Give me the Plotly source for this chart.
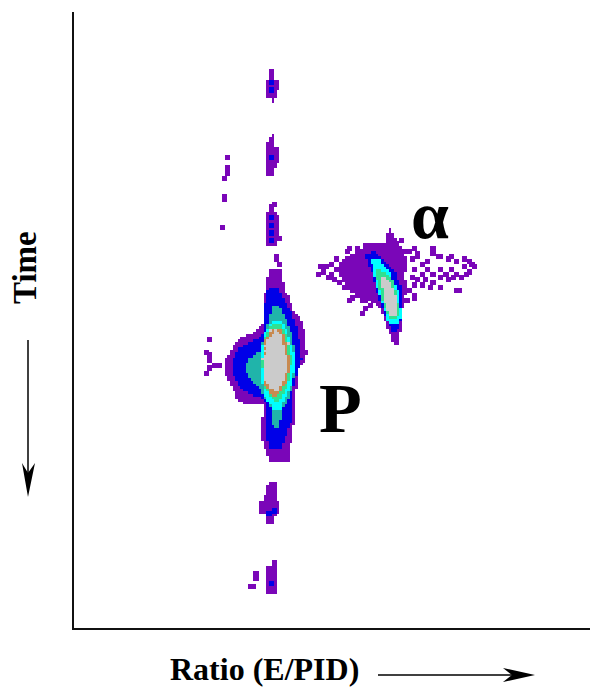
import numpy as np
import plotly.graph_objects as go

# Axis extents (detector channels)
x_range = [74, 590]
y_range = [628, 12]
bin_size = 2.6

# Intensity levels and their colours
level_colors = ["#7a06b8", "#0000e8", "#20b4aa", "#00ffff", "#30e090", "#c88a50", "#cbcbcb"]

# Proton locus, one outline per intensity level
p_purple = [(270,269),(280,268),(282,275),(285,293),(290,297),(292,307),(297,315),(303,322),(305,337),(307,353),(305,363),(298,367),(297,383),(295,400),(295,417),(293,430),(290,450),(290,462),(270,462),(266,452),(262,440),(261,425),(264,410),(264,405),(250,405),(238,402),(233,390),(225,375),(225,363),(232,348),(240,338),(253,333),(264,323),(265,293),(267,280)]
p_blue = [(268,288),(279,288),(285,303),(292,313),(297,330),(300,347),(302,360),(297,373),(293,390),(292,407),(292,420),(285,437),(282,450),(270,450),(266,433),(265,400),(252,395),(240,388),(233,373),(233,360),(240,347),(253,342),(264,333),(265,303)]
p_teal = [(273,305),(280,307),(285,317),(292,335),(296,360),(293,383),(290,397),(282,410),(280,427),(273,427),(272,410),(264,397),(260,388),(250,380),(245,370),(248,360),(260,352),(265,332)]
p_cyan = [(273,320),(282,322),(288,335),(296,360),(292,383),(288,393),(280,410),(273,410),(265,397),(260,373),(260,357),(265,332)]
p_green = [(273,323),(280,323),(287,337),(292,360),(288,385),(278,403),(275,403),(265,388),(262,363),(265,337)]
p_orange = [(273,328),(281,328),(288,350),(290,367),(287,382),(277,397),(273,397),(265,385),(263,363),(265,340)]
p_gray = [(274,333),(280,333),(285,350),(288,367),(283,383),(277,392),(270,388),(265,380),(264,363),(267,340)]

# Alpha locus
a_purple = [(390,228),(393,235),(402,247),(407,260),(405,277),(407,290),(403,307),(402,323),(398,345),(393,345),(388,330),(382,313),(375,303),(360,297),(347,290),(340,277),(338,262),(353,253),(365,248),(372,242),(385,243),(387,233)]
a_blue = [(372,252),(377,253),(385,263),(395,273),(402,290),(402,313),(399,330),(392,332),(385,318),(378,297),(372,273),(365,255)]
a_cyan = [(371,258),(378,258),(390,273),(399,293),(401,318),(397,325),(388,323),(380,297),(373,273)]
a_green = [(375,267),(380,270),(392,278),(397,297),(399,317),(390,320),(383,303),(377,280)]
a_gray = [(380,275),(390,282),(397,300),(397,315),(389,315),(384,300)]

# Weak bands along the proton line
band_1 = [(269,70),(278,68),(273,72),(273,78),(279,79),(279,87),(277,93),(273,103),(271,98),(267,97),(267,82),(269,78)]
band_2 = [(269,138),(273,135),(273,147),(279,148),(279,162),(275,168),(273,175),(267,175),(267,143)]
band_3 = [(269,205),(273,206),(274,210),(279,217),(279,237),(275,247),(267,247),(267,217)]
band_4 = [(268,482),(273,482),(278,485),(278,502),(281,503),(278,515),(273,520),(273,524),(267,524),(266,515),(256,515),(258,512),(260,505),(255,503),(263,501),(267,490)]
band_5 = [(267,567),(277,563),(278,593),(267,594),(267,577)]

# Isolated counts
blue_counts = [(271,88),(269,81),(270,155),(271,217),(271,225),(271,232),(270,239),(268,513),(272,510),(270,583)]
gray_counts = [(265,345),(264,352),(263,360),(264,370),(266,378),(288,343),(270,331),(276,330)]
purple_counts = [(227,157),(227,167),(227,172),(224,178),(224,197),(224,194),(221,226),(275,254),(275,258),(272,202),(279,237),(272,561),(254,573),(254,578),(251,584),(249,586),
    (278,264),(209,337),(207,355),(208,360),(207,368),(205,372),(206,352),(217,365),(214,364),(225,358),
    (408,250),(412,247),(415,252),(410,258),(415,256),(420,262),(425,260),(432,248),(432,253),(436,256),(440,254),(446,258),(450,256),(456,260),(462,258),(467,260),(470,264),(473,266),(468,270),(462,266),(456,272),(450,268),(444,272),(438,268),(432,272),(426,268),(420,272),(414,268),(410,275),(416,278),(424,278),(432,280),(438,276),(446,278),(452,276),(460,276),(466,274),(440,285),(455,288),(457,289),(430,285),(420,283),(412,283),(408,290),(413,295),(406,300),(414,296),
    (325,265),(320,266),(330,263),(322,270),(318,272),(330,272),(335,268),(328,276),(333,278),(338,280),(342,285),(335,258),(345,250),(348,248),(356,248),(365,245),(350,297),(348,298),(360,300),(365,298),(360,313),(355,295),(372,300),(365,308),(368,305),(400,240),(406,250)]

# Text
label_alpha = "α"
label_proton = "P"
label_time = "Time"
label_ratio = "Ratio (E/PID)"

SERIF = "Liberation Serif"

x_bins = np.arange(x_range[0] + bin_size / 2, x_range[1], bin_size)
y_bins = np.arange(y_range[1] + bin_size / 2, y_range[0], bin_size)
grid_x, grid_y = np.meshgrid(x_bins, y_bins)
counts = np.full(grid_x.shape, np.nan)

def fill_outline(outline, level):
    px = np.array([p[0] for p in outline], float)
    py = np.array([p[1] for p in outline], float)
    inside = np.zeros(grid_x.shape, bool)
    for i in range(len(px)):
        j = i - 1
        crosses = (py[i] > grid_y) != (py[j] > grid_y)
        with np.errstate(divide="ignore", invalid="ignore"):
            at_x = (px[j] - px[i]) * (grid_y - py[i]) / (py[j] - py[i]) + px[i]
        inside ^= crosses & (grid_x < at_x)
    counts[inside] = level

def fill_points(points, level, span=1):
    for x, y in points:
        r, c = np.abs(y_bins - y).argmin(), np.abs(x_bins - x).argmin()
        counts[r:r + span, c:c + span] = level

for outline in [band_1, band_2, band_3, band_4, band_5, p_purple, a_purple]:
    fill_outline(outline, 1)
fill_points(purple_counts, 1, 2)
fill_points(blue_counts, 2, 2)
for outline, level in [(p_blue, 2), (p_teal, 3), (p_cyan, 4), (p_green, 5), (p_orange, 6), (p_gray, 7),
                       (a_blue, 2), (a_cyan, 4), (a_green, 5), (a_gray, 7)]:
    fill_outline(outline, level)
fill_points(gray_counts, 7)

n = len(level_colors)
scale = []
for i, c in enumerate(level_colors):
    scale += [[i / n, c], [(i + 1) / n, c]]

fig = go.Figure(go.Heatmap(x=x_bins, y=y_bins, z=counts, zmin=0.5, zmax=n + 0.5, colorscale=scale,
                           showscale=False, hoverinfo="skip", zsmooth=False))

def to_paper(x, y):
    return (x - x_range[0]) / (x_range[1] - x_range[0]), (y_range[0] - y) / (y_range[0] - y_range[1])

def text(x, y, s, size, angle=0):
    px, py = to_paper(x, y)
    fig.add_annotation(x=px, y=py, xref="paper", yref="paper", text=f"<b>{s}</b>", showarrow=False, textangle=angle,
                       xanchor="center", yanchor="middle", borderpad=0,
                       font=dict(family=SERIF, size=size, color="black"))

def arrow(start, end, barb_a, barb_b, notch):
    x0, y0 = to_paper(*start)
    x1, y1 = to_paper(*notch)
    fig.add_shape(type="line", xref="paper", yref="paper", x0=x0, y0=y0, x1=x1, y1=y1,
                  line=dict(color="black", width=1.5))
    pts = [to_paper(*p) for p in (end, barb_a, notch, barb_b)]
    path = "M " + " L ".join(f"{a:.5f},{b:.5f}" for a, b in pts) + " Z"
    fig.add_shape(type="path", xref="paper", yref="paper", path=path, fillcolor="black", line=dict(width=0))

text(430, 215, label_alpha, 68)
text(340, 409, label_proton, 70)
text(25, 268, label_time, 33, -90)
text(264, 669, label_ratio, 32)

arrow((28, 340), (28, 497), (22, 463), (35, 463), (28, 473))
arrow((378, 675), (535, 675), (503, 668), (503, 682), (512, 675))

fig.update_xaxes(range=x_range, showgrid=False, zeroline=False, showticklabels=False, ticks="",
                 showline=True, linecolor="#111111", linewidth=2)
fig.update_yaxes(range=y_range, showgrid=False, zeroline=False, showticklabels=False, ticks="",
                 showline=True, linecolor="#111111", linewidth=2)
fig.update_layout(width=590, height=688, margin=dict(l=74, r=0, t=12, b=60),
                  paper_bgcolor="white", plot_bgcolor="white", showlegend=False)
fig.write_html("out.html", config=dict(displayModeBar=False),
               post_script="document.body.style.margin='0';document.body.style.overflow='hidden';")
